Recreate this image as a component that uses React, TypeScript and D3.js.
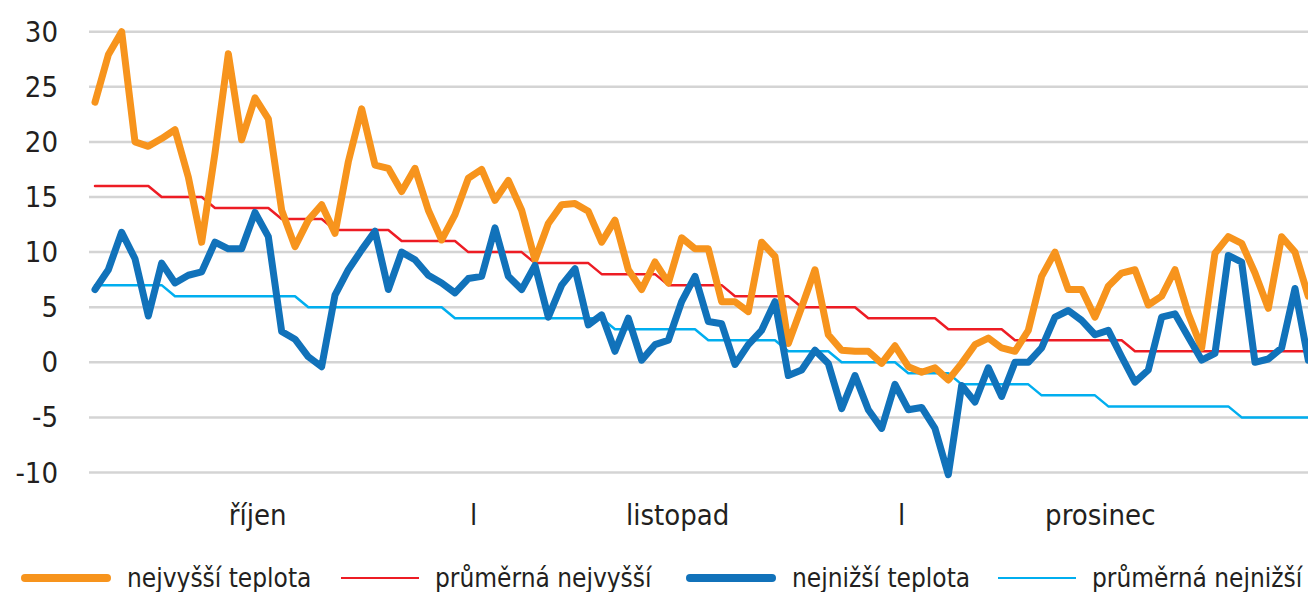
import { line, scaleLinear, select } from "d3";
import { useEffect, useRef } from "react";

// denní hodnoty 1. 10. – 31. 12.
const maxTemp = [
    23.6, 27.9, 30.0, 20.0, 19.6, 20.3, 21.1, 16.8, 10.9, 19.0,
    28.0, 20.2, 24.0, 22.1, 13.8, 10.5, 12.9, 14.3, 11.7, 18.2,
    23.0, 17.9, 17.6, 15.5, 17.6, 13.8, 11.1, 13.4, 16.7, 17.5,
    14.7, 16.5, 13.8, 9.3, 12.6, 14.3, 14.4, 13.7, 10.9, 12.9,
    8.4, 6.6, 9.1, 7.2, 11.3, 10.3, 10.3, 5.5, 5.5, 4.6,
    10.9, 9.6, 1.7, 5.0, 8.4, 2.5, 1.1, 1.0, 1.0, -0.1,
    1.5, -0.4, -0.9, -0.5, -1.6, -0.1, 1.6, 2.2, 1.3, 1.0,
    2.9, 7.8, 10.0, 6.6, 6.6, 4.1, 6.9, 8.1, 8.4, 5.2,
    6.0, 8.4, 4.4, 1.3, 9.9, 11.4, 10.8, 8.1, 4.9, 11.4,
    10.0, 6.0,
];
const avgMax = [
    16, 16, 16, 16, 16, 15, 15, 15, 15, 14,
    14, 14, 14, 14, 13, 13, 13, 13, 12, 12,
    12, 12, 12, 11, 11, 11, 11, 11, 10, 10,
    10, 10, 10, 9, 9, 9, 9, 9, 8, 8,
    8, 8, 8, 7, 7, 7, 7, 7, 6, 6,
    6, 6, 6, 5, 5, 5, 5, 5, 4, 4,
    4, 4, 4, 4, 3, 3, 3, 3, 3, 2,
    2, 2, 2, 2, 2, 2, 2, 2, 1, 1,
    1, 1, 1, 1, 1, 1, 1, 1, 1, 1,
    1, 1,
];
const minTemp = [
    6.6, 8.4, 11.8, 9.4, 4.2, 9.0, 7.2, 7.9, 8.2, 10.9,
    10.3, 10.3, 13.6, 11.4, 2.8, 2.1, 0.5, -0.4, 6.1, 8.4,
    10.2, 11.9, 6.6, 10.0, 9.3, 7.9, 7.2, 6.3, 7.6, 7.8,
    12.2, 7.8, 6.6, 8.8, 4.1, 7.0, 8.5, 3.4, 4.3, 1.0,
    4.0, 0.2, 1.6, 2.0, 5.5, 7.8, 3.7, 3.5, -0.2, 1.6,
    2.9, 5.5, -1.2, -0.7, 1.1, -0.1, -4.2, -1.2, -4.3, -6.0,
    -2.0, -4.3, -4.1, -6.0, -10.2, -2.1, -3.6, -0.5, -3.1, 0.0,
    0.0, 1.3, 4.1, 4.7, 3.8, 2.5, 2.9, 0.5, -1.8, -0.7,
    4.1, 4.4, 2.3, 0.2, 0.8, 9.7, 9.1, 0.0, 0.3, 1.3,
    6.7, 0.2,
];
const avgMin = [
    7, 7, 7, 7, 7, 7, 6, 6, 6, 6,
    6, 6, 6, 6, 6, 6, 5, 5, 5, 5,
    5, 5, 5, 5, 5, 5, 5, 4, 4, 4,
    4, 4, 4, 4, 4, 4, 4, 4, 4, 3,
    3, 3, 3, 3, 3, 3, 2, 2, 2, 2,
    2, 2, 1, 1, 1, 1, 0, 0, 0, 0,
    0, -1, -1, -1, -1, -2, -2, -2, -2, -2,
    -2, -3, -3, -3, -3, -3, -4, -4, -4, -4,
    -4, -4, -4, -4, -4, -4, -5, -5, -5, -5,
    -5, -5,
];

const yTicks = [30, 25, 20, 15, 10, 5, 0, -5, -10];
const xLabels = ["říjen", "l", "listopad", "l", "prosinec"];
const xLabelDay = [12.2, 28.4, 43.7, 60.5, 75.4];

const series = [
    { name: "nejvyšší teplota", values: maxTemp, color: "#F7941D", width: 7 },
    { name: "průměrná nejvyšší", values: avgMax, color: "#ED1C24", width: 2.5 },
    { name: "nejnižší teplota", values: minTemp, color: "#1172BA", width: 7 },
    { name: "průměrná nejnižší", values: avgMin, color: "#00AEEF", width: 2.5 },
];

const font = "'DejaVu Sans Condensed', 'Liberation Sans Narrow', 'Roboto', sans-serif";

export default function App() {
    const ref = useRef<SVGSVGElement>(null);

    useEffect(() => {
        const svg = select(ref.current);
        svg.selectAll("*").remove();

        const x = scaleLinear().domain([0, maxTemp.length - 1]).range([95, 1308.3]);
        const y = scaleLinear().domain([-10, 30]).range([472.5, 31.7]);

        // mřížka
        svg.append("g")
            .selectAll("line")
            .data(yTicks)
            .join("line")
            .attr("x1", 89)
            .attr("x2", 1308)
            .attr("y1", (d) => y(d))
            .attr("y2", (d) => y(d))
            .attr("stroke", "#d4d4d4")
            .attr("stroke-width", 2.5);

        svg.append("g")
            .selectAll("text")
            .data(yTicks)
            .join("text")
            .attr("x", 58)
            .attr("y", (d) => y(d))
            .attr("text-anchor", "end")
            .attr("dominant-baseline", "central")
            .attr("font-family", font)
            .attr("font-size", 29)
            .attr("fill", "#231f20")
            .text((d) => String(d));

        svg.append("g")
            .selectAll("text")
            .data(xLabels)
            .join("text")
            .attr("x", (d, i) => x(xLabelDay[i]))
            .attr("y", 525)
            .attr("text-anchor", "middle")
            .attr("font-family", font)
            .attr("font-size", 29)
            .attr("fill", "#231f20")
            .text((d) => d);

        const l: any = line<number>()
            .x((d, i) => x(i))
            .y((d) => y(d));

        // tenké čáry pod silnými
        const order = [1, 3, 0, 2];
        order.forEach((k) => {
            const s = series[k];
            svg.append("path")
                .datum(s.values)
                .attr("d", l)
                .attr("fill", "none")
                .attr("stroke", s.color)
                .attr("stroke-width", s.width)
                .attr("stroke-linejoin", "round")
                .attr("stroke-linecap", "round");
        });

        // legenda
        const legendX = [25, 341, 690, 998];
        const leg = svg.append("g");
        series.forEach((s, i) => {
            leg.append("line")
                .attr("x1", legendX[i])
                .attr("x2", legendX[i] + (s.width > 5 ? 82 : 78))
                .attr("y1", 578)
                .attr("y2", 578)
                .attr("stroke", s.color)
                .attr("stroke-width", s.width > 5 ? 8 : 2)
                .attr("stroke-linecap", s.width > 5 ? "round" : "butt");
            leg.append("text")
                .attr("x", legendX[i] + (s.width > 5 ? 102 : 94))
                .attr("y", 587)
                .attr("font-family", font)
                .attr("font-size", 26)
                .attr("fill", "#231f20")
                .text(s.name);
        });
    }, []);

    return (
        <div style={{ position: "absolute", left: 0, top: 0 }}>
            <svg ref={ref} width={1308} height={592} style={{ display: "block", background: "#fff" }}></svg>
        </div>
    );
}
